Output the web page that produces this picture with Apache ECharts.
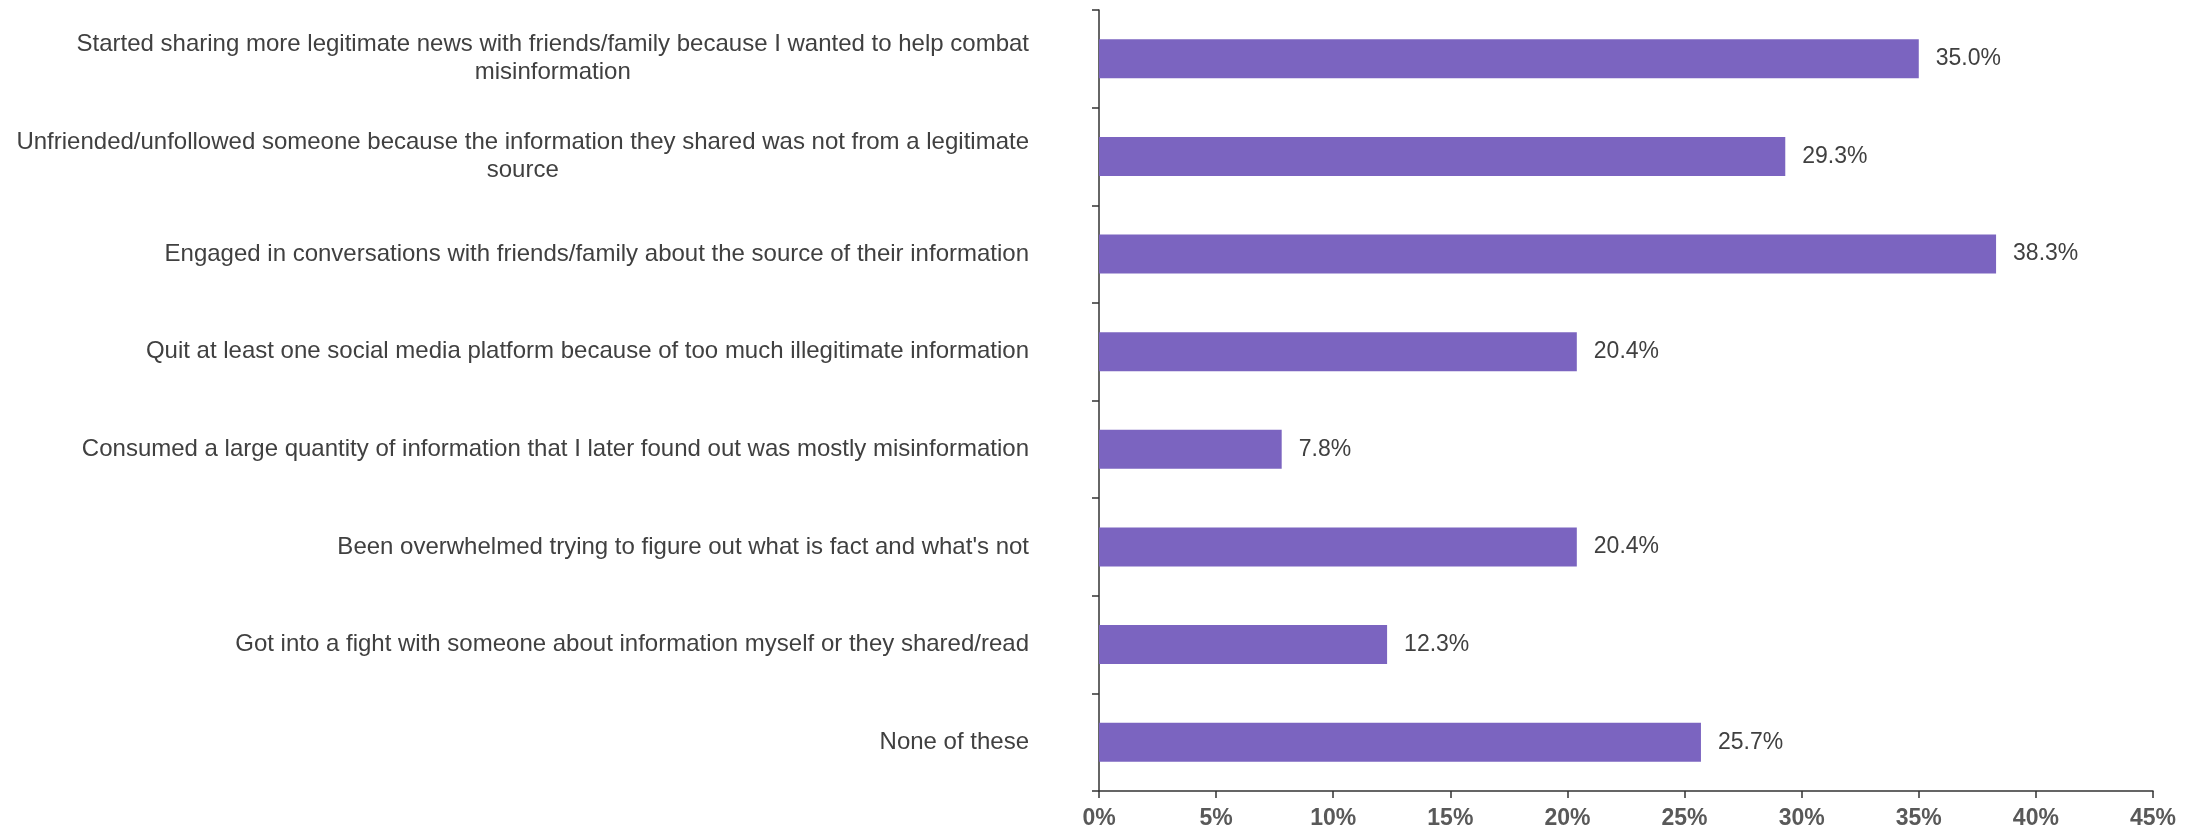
<!DOCTYPE html>
<html>
<head>
<meta charset="utf-8">
<script src="https://cdn.jsdelivr.net/npm/echarts@6/dist/echarts.min.js"></script>
<style>
  html, body { margin: 0; padding: 0; background: #ffffff; }
  #chart { width: 2198px; height: 830px; }
</style>
</head>
<body>
<div id="chart"></div>
<script>
// Survey responses: actions taken because of misinformation
const categories = [
  'Started sharing more legitimate news with friends/family because I wanted to help combat\nmisinformation',
  'Unfriended/unfollowed someone because the information they shared was not from a legitimate\nsource',
  'Engaged in conversations with friends/family about the source of their information',
  'Quit at least one social media platform because of too much illegitimate information',
  'Consumed a large quantity of information that I later found out was mostly misinformation',
  'Been overwhelmed trying to figure out what is fact and what\'s not',
  'Got into a fight with someone about information myself or they shared/read',
  'None of these'
];
const shares = [35.0, 29.3, 38.3, 20.4, 7.8, 20.4, 12.3, 25.7];
const axisMax = 45;
const axisStep = 5;

const chart = echarts.init(document.getElementById('chart'));

chart.setOption({
  animation: false,
  backgroundColor: '#ffffff',
  grid: { left: 1099, right: 45, top: 10, bottom: 39, containLabel: false },
  xAxis: {
    type: 'value',
    min: 0,
    max: axisMax,
    interval: axisStep,
    splitLine: { show: false },
    axisLine: { show: true, lineStyle: { color: '#333333', width: 1.5 } },
    axisTick: { show: true, length: 7, lineStyle: { color: '#333333', width: 1.5 } },
    axisLabel: {
      formatter: v => v + '%',
      color: '#595959',
      fontFamily: 'Liberation Sans, Arial, sans-serif',
      fontWeight: 'bold',
      fontSize: 23,
      margin: 16
    }
  },
  yAxis: {
    type: 'category',
    inverse: true,
    data: categories,
    axisLine: { show: true, lineStyle: { color: '#333333', width: 1.5 } },
    axisTick: { show: true, length: 7, lineStyle: { color: '#333333', width: 1.5 } },
    axisLabel: {
      margin: 70,
      formatter: v => v.split('\n').map(s => '{c|' + s + '}').join('\n'),
      rich: {
        c: {
          align: 'center',
          color: '#404040',
          fontFamily: 'Liberation Sans, Arial, sans-serif',
          fontSize: 24,
          lineHeight: 28
        }
      }
    }
  },
  series: [{
    type: 'bar',
    data: shares,
    barWidth: 39,
    itemStyle: { color: '#7B64C0' },
    label: {
      show: true,
      position: 'right',
      distance: 17,
      formatter: p => p.value.toFixed(1) + '%',
      color: '#404040',
      fontFamily: 'Liberation Sans, Arial, sans-serif',
      fontSize: 23
    }
  }]
});
</script>
</body>
</html>
